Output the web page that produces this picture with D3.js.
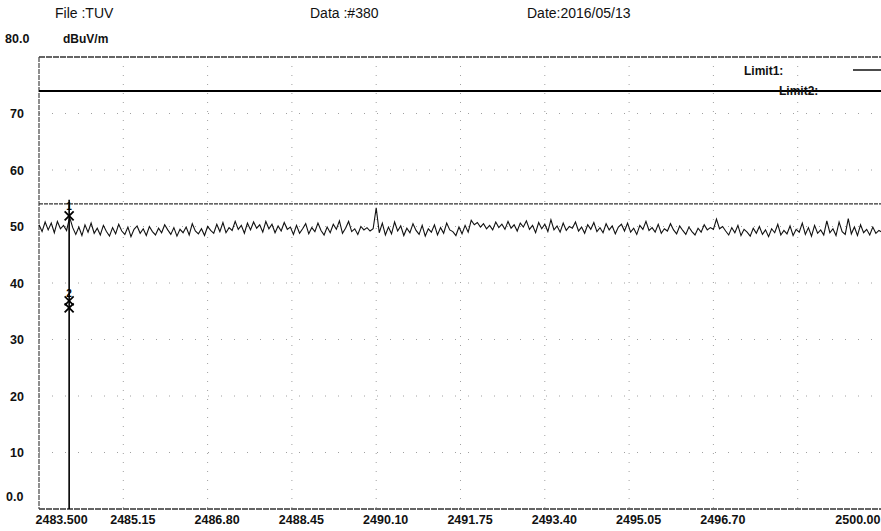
<!DOCTYPE html>
<html>
<head>
<meta charset="utf-8">
<script src="https://cdn.jsdelivr.net/npm/d3@7"></script>
<style>
  html, body { margin: 0; padding: 0; background: #fff; }
  svg { display: block; }
  text { font-family: "Liberation Sans", Arial, sans-serif; }
</style>
</head>
<body>
<svg id="chart" width="881" height="531"></svg>
<script>
// ---------------- data ----------------
const headerTexts = ["File :TUV", "Data :#380", "Date:2016/05/13"];
const yUnit = "dBuV/m";
const yTicks = [0, 10, 20, 30, 40, 50, 60, 70, 80];
const yTickLabels = ["0.0", "10", "20", "30", "40", "50", "60", "70", "80.0"];
const freqStart = 2483.5;
const freqStop = 2500.0;
const freqStep = 0.06;
const xGridFreqs = [2483.5, 2485.15, 2486.8, 2488.45, 2490.1, 2491.75, 2493.4, 2495.05, 2496.7, 2498.35, 2500.0];
const xTickFreqs = [2483.5, 2485.15, 2486.8, 2488.45, 2490.1, 2491.75, 2493.4, 2495.05, 2496.7, 2500.0];
const xTickLabels = ["2483.500", "2485.15", "2486.80", "2488.45", "2490.10", "2491.75", "2493.40", "2495.05", "2496.70", "2500.00"];
const limitNames = ["Limit1:", "Limit2:"];
const limitValues = [74, 54];
const markerNames = ["1", "2"];
const markerFreqs = [2484.09, 2484.09];
const markerValues = [51.9, 35.6];
const traceValues = [
  50.3, 49.1, 50.8, 49.4, 50.6, 48.9, 50.9, 49.6, 50.2, 49.3, 51.6, 49.8,
  48.6, 49.9, 48.4, 50.3, 49.0, 50.6, 48.8, 49.7, 48.5, 50.2, 49.1, 48.3,
  49.8, 48.7, 50.4, 49.2, 48.6, 49.9, 48.2, 49.5, 50.1, 48.8, 49.6, 48.4,
  50.0, 49.1, 48.5, 49.7, 48.9, 50.3, 49.4, 48.6, 49.8, 48.3, 49.5, 48.9,
  49.9, 48.5, 50.5, 49.2, 48.7, 49.6, 48.4, 50.0, 49.3, 48.8, 50.4, 49.1,
  50.7, 48.9, 49.8, 49.3, 50.9, 49.5, 50.2, 48.8, 50.6, 49.4, 50.8, 49.7,
  50.3, 49.0, 50.9, 49.6, 50.4, 48.9, 50.1, 49.2, 50.7, 49.5, 49.9, 48.6,
  50.2, 48.8, 49.6, 50.5, 48.7, 49.8, 49.1, 50.6, 49.3, 48.5, 49.9, 48.9,
  50.4, 49.5, 51.0, 48.8, 49.7, 50.9, 49.1, 49.6, 48.6, 50.0, 49.4, 49.8,
  49.2, 49.6, 53.3, 48.9, 50.6, 48.5, 49.9, 48.7, 50.8, 49.2, 50.1, 48.4,
  49.7, 48.9, 50.5, 49.3, 48.6, 50.2, 48.3, 49.6, 49.0, 50.3, 48.5, 49.8,
  48.8, 50.6, 49.4, 49.1, 48.4, 49.9, 48.7, 50.2, 49.0, 51.1, 50.3, 50.7,
  49.9, 50.5, 49.6, 50.2, 49.4, 50.8, 49.8, 50.4, 49.5, 50.9, 49.7, 50.3,
  49.2, 50.6, 49.9, 51.0, 49.5, 50.2, 48.9, 50.7, 49.6, 50.4, 49.1, 51.2,
  49.4, 50.1, 49.0, 50.6, 49.3, 50.0, 49.7, 50.8, 49.2, 49.9, 48.8, 50.3,
  49.5, 50.7, 49.1, 49.8, 48.9, 50.5, 49.4, 50.1, 48.7, 49.9, 50.4, 49.2,
  50.6, 49.0, 49.7, 48.6, 50.2, 49.5, 50.9, 49.3, 49.8, 49.0, 50.4, 48.8,
  49.6, 49.2, 50.5, 49.4, 48.7, 50.1, 49.3, 48.6, 49.9, 49.1, 48.5, 49.7,
  49.0, 50.3, 49.4, 49.8, 49.5, 51.3, 49.6, 50.0, 49.2, 48.5, 49.8, 48.9,
  50.2, 48.4, 49.5, 49.0, 48.3, 49.7, 48.8, 50.0, 48.6, 49.4, 48.2, 49.6,
  48.9, 50.4, 48.5, 49.3, 48.7, 50.1, 48.4, 49.5, 49.0, 50.6, 48.6, 49.8,
  48.3, 50.2, 48.8, 49.4, 48.5, 51.0, 48.9, 49.6, 48.4, 50.8, 49.1, 48.6,
  51.4, 48.7, 49.9, 48.4, 50.3, 48.9, 49.5, 48.5, 49.9, 48.8, 49.3, 49.0
];

// ---------------- layout ----------------
const svg = d3.select("#chart");
const pLeft = 39, pRight = 882, pTop = 57, pBottom = 509;

const x = d3.scaleLinear().domain([freqStart, freqStop]).range([pLeft, pRight]);
const y = d3.scaleLinear().domain([0, 80]).range([pBottom, pTop]);

// header
const headerX = [55, 310, 527];
headerTexts.forEach((t, i) => {
  svg.append("text").attr("x", headerX[i]).attr("y", 18)
    .attr("font-size", 14).attr("fill", "#111").text(t);
});

// grid
const grid = svg.append("g");
grid.selectAll("line.vg").data(xGridFreqs.slice(1, -1)).enter().append("line")
  .attr("x1", d => x(d)).attr("x2", d => x(d))
  .attr("y1", pTop).attr("y2", pBottom)
  .attr("stroke", "#a0a0a0").attr("stroke-width", 1)
  .attr("stroke-dasharray", "1,8");
grid.selectAll("line.hg").data(yTicks.slice(1, -1)).enter().append("line")
  .attr("x1", pLeft).attr("x2", pRight)
  .attr("y1", d => y(d)).attr("y2", d => y(d))
  .attr("stroke", "#a0a0a0").attr("stroke-width", 1)
  .attr("stroke-dasharray", "1,12");

// frame
svg.append("line").attr("x1", pLeft).attr("x2", pRight).attr("y1", y(80)).attr("y2", y(80))
  .attr("stroke", "#333").attr("stroke-width", 1.6).attr("stroke-dasharray", "6,1");
svg.append("line").attr("x1", pLeft).attr("x2", pRight).attr("y1", y(0)).attr("y2", y(0))
  .attr("stroke", "#333").attr("stroke-width", 1.4).attr("stroke-dasharray", "6,1");
svg.append("line").attr("x1", pLeft).attr("x2", pLeft).attr("y1", pTop).attr("y2", pBottom)
  .attr("stroke", "#444").attr("stroke-width", 1.2).attr("stroke-dasharray", "5,1");

// y axis labels
const yAxis = d3.axisLeft(y).tickValues(yTicks.slice(1, -1))
  .tickFormat((d) => yTickLabels[yTicks.indexOf(d)]).tickSize(0).tickPadding(0);
const gy = svg.append("g").attr("transform", "translate(24,0)").call(yAxis);
gy.select(".domain").remove();
gy.selectAll("text").attr("font-size", 12.5).attr("font-weight", "bold")
  .attr("font-family", "Liberation Sans, Arial, sans-serif").attr("fill", "#111");
// end labels (offset like the original)
svg.append("text").attr("x", 5).attr("y", y(80) - 14).attr("font-size", 12.5)
  .attr("font-weight", "bold").attr("fill", "#111").text(yTickLabels[8]);
svg.append("text").attr("x", 6).attr("y", y(0) - 8).attr("font-size", 12.5)
  .attr("font-weight", "bold").attr("fill", "#111").text(yTickLabels[0]);
svg.append("text").attr("x", 63).attr("y", y(80) - 14).attr("font-size", 12)
  .attr("font-weight", "bold").attr("fill", "#111").text(yUnit);

// x axis labels
const xAxis = d3.axisBottom(x).tickValues(xTickFreqs)
  .tickFormat((d) => xTickLabels[xTickFreqs.indexOf(d)]).tickSize(0).tickPadding(0);
const gx = svg.append("g").attr("transform", `translate(0,${pBottom + 6})`).call(xAxis);
gx.select(".domain").remove();
gx.selectAll("text").attr("font-size", 12.5).attr("font-weight", "bold")
  .attr("font-family", "Liberation Sans, Arial, sans-serif").attr("fill", "#111")
  .attr("dx", (d, i) => i === 0 ? 0 : (i === xTickFreqs.length - 1 ? 0 : 9))
  .attr("text-anchor", (d, i) => i === 0 ? "start" : (i === xTickFreqs.length - 1 ? "end" : "middle"))
  .attr("x", (d, i) => i === 0 ? -4 : (i === xTickFreqs.length - 1 ? -2 : 0));

// limit lines
svg.append("line").attr("x1", pLeft).attr("x2", pRight)
  .attr("y1", y(limitValues[0])).attr("y2", y(limitValues[0]))
  .attr("stroke", "#000").attr("stroke-width", 2);
svg.append("line").attr("x1", pLeft).attr("x2", pRight)
  .attr("y1", y(limitValues[1])).attr("y2", y(limitValues[1]))
  .attr("stroke", "#333").attr("stroke-width", 1.4).attr("stroke-dasharray", "4,1");

// legend
svg.append("text").attr("x", 744).attr("y", 75).attr("font-size", 12)
  .attr("font-weight", "bold").attr("fill", "#111").text(limitNames[0]);
svg.append("line").attr("x1", 853).attr("x2", 881).attr("y1", 70).attr("y2", 70)
  .attr("stroke", "#111").attr("stroke-width", 1.5);
svg.append("text").attr("x", 779).attr("y", 95).attr("font-size", 12)
  .attr("font-weight", "bold").attr("fill", "#111").text(limitNames[1]);

// trace
const traceData = traceValues.map((v, i) => [freqStart + i * freqStep, v]);
const line = d3.line().x(d => x(d[0])).y(d => y(d[1]));
svg.append("path").datum(traceData).attr("d", line)
  .attr("fill", "none").attr("stroke", "#111").attr("stroke-width", 1.1)
  .attr("stroke-linejoin", "miter");

// marker
const mx = x(markerFreqs[0]);
svg.append("line").attr("x1", mx).attr("x2", mx)
  .attr("y1", y(markerValues[0]) - 16).attr("y2", pBottom)
  .attr("stroke", "#000").attr("stroke-width", 1.6);
markerValues.forEach((v, i) => {
  const cx = x(markerFreqs[i]), cy = y(v);
  const s = 4.5;
  const g = svg.append("g");
  g.append("path").attr("d", `M${cx - s},${cy - s}L${cx + s},${cy + s}M${cx + s},${cy - s}L${cx - s},${cy + s}`)
    .attr("stroke", "#000").attr("stroke-width", 1.8);
  if (i === 1) {
    g.append("path").attr("d", `M${cx - s},${cy - s - 7}L${cx + s},${cy + s - 7}M${cx + s},${cy - s - 7}L${cx - s},${cy + s - 7}`)
      .attr("stroke", "#000").attr("stroke-width", 1.6);
  }
  g.append("text").attr("x", cx).attr("y", cy - (i === 1 ? 11 : 6)).attr("text-anchor", "middle")
    .attr("font-size", 10).attr("font-weight", "bold").attr("fill", "#000").text(markerNames[i]);
});
</script>
</body>
</html>
